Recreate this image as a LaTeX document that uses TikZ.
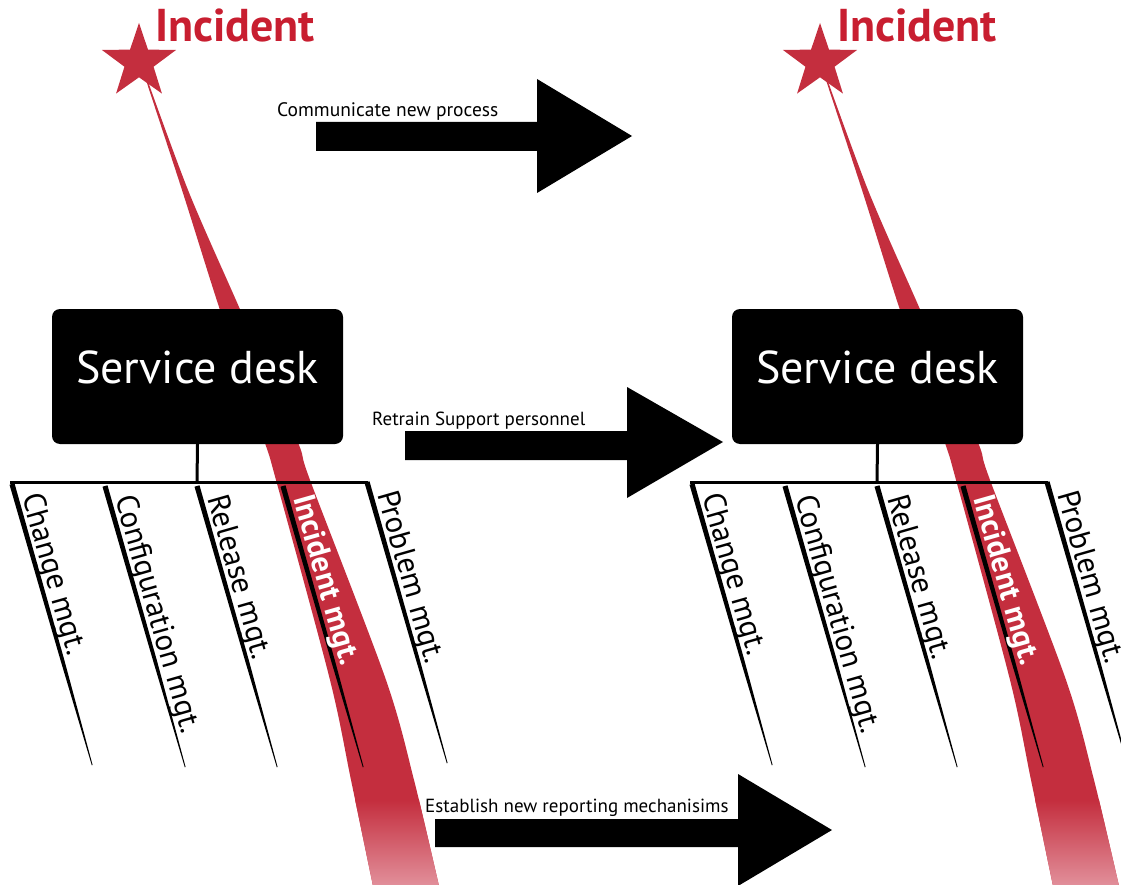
\documentclass[tikz,border=0pt]{standalone}
\usepackage{fontspec}
\setmainfont{PT Sans}
\usetikzlibrary{shapes.geometric,calc}
\definecolor{incred}{RGB}{196,46,62}
\definecolor{incpink}{RGB}{226,145,156}
\definecolor{inctext}{RGB}{200,30,48}
\newcommand\fbbranch[2]{\fill[shift={(#1,#2)}] (-2.5,0.7) -- (2.5,-0.7) -- (51.9,174.5) -- (80.6,281) -- (79.8,281.3) -- (48.3,175.5) -- cycle;}
\newcommand\raypath{plot[smooth] coordinates {(140,62) (182,190) (219,307) (264,440) (276,480) (330,680) (351,780) (373,886)} -- plot[smooth] coordinates {(439,886) (414,780) (386,680) (310,480) (297,440) (239,307) (188,190) (141,62)} -- cycle}
\tikzset{
  boxnode/.style={fill=black, rounded corners=8pt, minimum width=291pt, minimum height=135pt, inner sep=0pt, text=white, font=\fontsize{46}{46}\selectfont, text height=33pt, text depth=19pt},
  brlabel/.style={rotate=-74.05, anchor=base west, inner sep=0pt, font=\fontsize{31}{31}\selectfont},
  arlabel/.style={anchor=base west, inner sep=0pt, font=\fontsize{19}{19}\selectfont},
  inclabel/.style={anchor=base west, inner sep=0pt, text=inctext, font=\fontsize{46}{46}\selectfont\bfseries},
  starnode/.style={star, star points=5, star point ratio=2.55, fill=incred, minimum size=78pt, inner sep=0pt},
  treeline/.style={line width=3pt}
}
\begin{document}
\begin{tikzpicture}[x=1pt,y=-1pt]
\useasboundingbox (0,0) rectangle (1121,885);
% rays
\foreach \dx in {0,680}{
  \begin{scope}[shift={(\dx,0)}]
    \fill[incred] \raypath;
    \begin{scope}
      \clip \raypath;
      \shade[top color=incred, bottom color=incpink] (300,800) rectangle (460,887);
    \end{scope}
  \end{scope}
}
% stars and titles
\node[starnode] (star1) at (139,62) {};
\node[starnode] (star2) at (820,62) {};
\node[inclabel] (inc1) at (155,42) {Incident};
\node[inclabel] (inc2) at (837,42) {Incident};
% boxes
\node[boxnode] (sd1) at (197.5,376.5) {Service desk};
\node[boxnode] (sd2) at (877.5,376.5) {Service desk};
% trees
\coordinate (j1) at (197,482);
\coordinate (l1) at (10,482);
\coordinate (r1) at (368,482);
\draw[treeline] (sd1.south) -- (j1);
\draw[treeline] (l1) -- (r1);
\coordinate (j2) at (877,482);
\coordinate (l2) at (690,482);
\coordinate (r2) at (1048,482);
\draw[treeline] (sd2.south) -- (j2);
\draw[treeline] (l2) -- (r2);
% branches
\foreach \dx in {0,680}{
  \fbbranch{12+\dx}{484}
  \fbbranch{105+\dx}{486}
  \fbbranch{197+\dx}{486}
  \fbbranch{283+\dx}{486}
  \fbbranch{367+\dx}{482}
}
\node[brlabel] (c1) at (22,496) {Change mgt.};
\node[brlabel] (g1) at (115,498) {Configuration mgt.};
\node[brlabel] (e1) at (207,498) {Release mgt.};
\node[brlabel, text=white, font=\fontsize{31}{31}\selectfont\bfseries] (i1) at (293,498) {Incident mgt.};
\node[brlabel] (p1) at (377,494) {Problem mgt.};
\node[brlabel] (c2) at (702,496) {Change mgt.};
\node[brlabel] (g2) at (795,498) {Configuration mgt.};
\node[brlabel] (e2) at (887,498) {Release mgt.};
\node[brlabel, text=white, font=\fontsize{31}{31}\selectfont\bfseries] (i2) at (973,498) {Incident mgt.};
\node[brlabel] (p2) at (1057,494) {Problem mgt.};
% block arrows
\fill (316,122) -- (537,122) -- (537,79) -- (632,136) -- (537,193) -- (537,151) -- (316,151) -- cycle;
\node[arlabel, font=\fontsize{19.5}{19.5}\selectfont] (t1) at (277,117) {Communicate new process};
\fill (405,431) -- (627,431) -- (627,387) -- (723,442) -- (627,498) -- (627,460) -- (405,460) -- cycle;
\node[arlabel] (t2) at (372,425) {Retrain Support personnel};
\fill (435,819) -- (738,819) -- (738,774) -- (832,830) -- (738,886) -- (738,847) -- (435,847) -- cycle;
\node[arlabel] (t3) at (425,812) {Establish new reporting mechanisims};
\end{tikzpicture}
\end{document}
